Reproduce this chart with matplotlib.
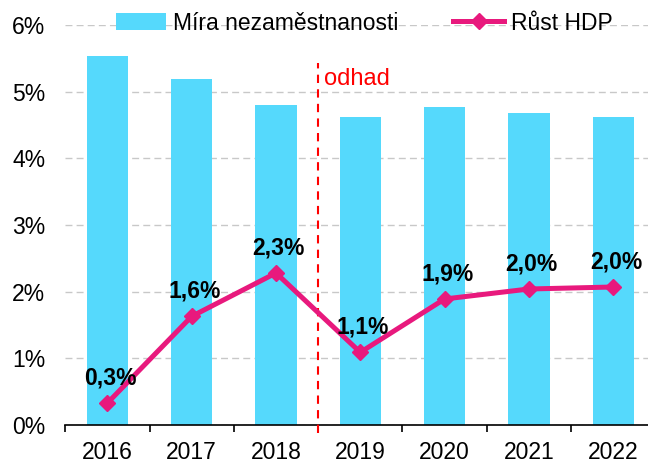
import numpy as np
import matplotlib.pyplot as plt
from matplotlib.ticker import FuncFormatter, FixedLocator

plt.rcParams["font.family"] = ["Liberation Sans", "DejaVu Sans"]

# ---------------------------------------------------------------------------
# DATA
# ---------------------------------------------------------------------------
years = ["2016", "2017", "2018", "2019", "2020", "2021", "2022"]
unemployment = [5.53, 5.19, 4.80, 4.62, 4.77, 4.68, 4.62]   # %
gdp_growth = [0.33, 1.63, 2.28, 1.09, 1.89, 2.04, 2.07]     # %
gdp_labels = ["0,3%", "1,6%", "2,3%", "1,1%", "1,9%", "2,0%", "2,0%"]

BAR_COLOR = "#55D9FC"
LINE_COLOR = "#E8197D"

# ---------------------------------------------------------------------------
# PLOT
# ---------------------------------------------------------------------------
fig = plt.figure(figsize=(6.48, 4.63), dpi=100)
ax = fig.add_axes([65.3 / 648, 38 / 463, 590 / 648, 400 / 463])

x = np.arange(len(years))
bars = ax.bar(x, unemployment, width=0.49, color=BAR_COLOR, zorder=2,
              label="Míra nezaměstnanosti")
line, = ax.plot(x, gdp_growth, color=LINE_COLOR, lw=3.6, marker="D", ms=8,
                zorder=4, label="Růst HDP")

for xi, yi, lab in zip(x, gdp_growth, gdp_labels):
    ax.annotate(lab, (xi, yi), xytext=(2, 10), textcoords="offset points",
                ha="center", va="bottom", fontsize=16.5, fontweight="bold",
                zorder=5)

# forecast divider
ax.axvline(2.5, ymin=-0.02, ymax=0.905, color="red", ls=(0, (4, 3)),
           lw=1.5, clip_on=False, zorder=3)
ax.text(2.57, 5.1, "odhad", color="red", fontsize=17, va="baseline")

ax.set_xlim(-0.5, 6.5)
ax.set_ylim(0, 6)
ax.set_yticks(np.arange(0, 7, 1))
ax.yaxis.set_major_formatter(FuncFormatter(lambda v, p: f"{v:.0f}%"))
ax.set_xticks(x)
ax.set_xticklabels(years)
ax.xaxis.set_minor_locator(FixedLocator(np.arange(-0.5, 7, 1)))

ax.tick_params(axis="x", which="major", length=0, pad=11.5, labelsize=16.5)
ax.tick_params(axis="x", which="minor", length=5, width=1.2)
ax.tick_params(axis="y", length=0, pad=14.5, labelsize=16.5)

ax.grid(axis="y", color="#C8C8C8", ls=(0, (5, 3)), lw=1, zorder=0)
for s in ["top", "right", "left"]:
    ax.spines[s].set_visible(False)
ax.spines["bottom"].set_linewidth(1.2)

fig.legend([bars, line], ["Míra nezaměstnanosti", "Růst HDP"],
           loc="center", bbox_to_anchor=(364 / 648, 1 - 23 / 463), ncol=2,
           frameon=False, fontsize=16.5, handlelength=2.2, columnspacing=2.4,
           handletextpad=0.3)

fig.savefig("out.png", dpi=100)
